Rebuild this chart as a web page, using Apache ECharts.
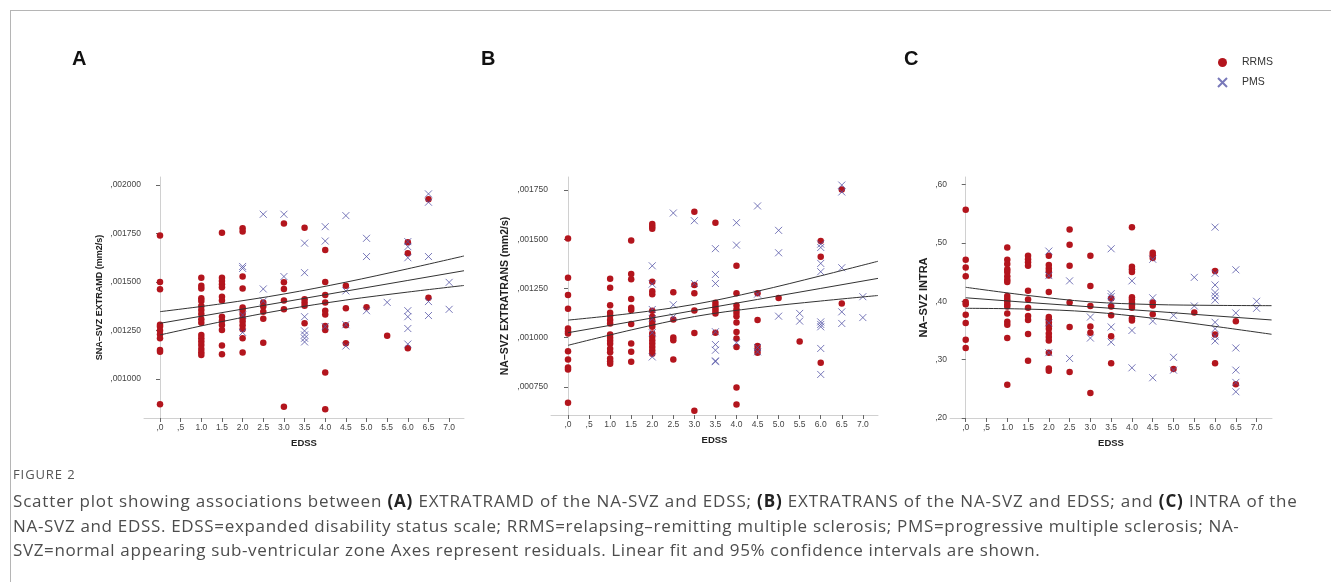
<!DOCTYPE html>
<html>
<head>
<meta charset="utf-8">
<script src="https://cdn.jsdelivr.net/npm/echarts@6/dist/echarts.min.js"></script>
<style>
  html, body { margin: 0; padding: 0; background: #fff; }
  #chart { position: absolute; left: 0; top: 0; width: 1331px; height: 582px; }
  #frame { position: absolute; left: 10px; top: 10px; width: 1321px; height: 572px;
    border-top: 1px solid #b5b5b5; border-left: 1px solid #b5b5b5; }
  #caption { position: absolute; left: 13px; top: 465px; width: 1316px;
    font-family: "Open Sans", sans-serif; color: #4d4d4d; white-space: nowrap; }
  #caption .fig { font-size: 13px; letter-spacing: 0.9px; color: #555; margin-bottom: 6px; }
  #caption .txt { font-size: 17px; line-height: 24.5px; }
  #caption .l1 { letter-spacing: 0.82px; }
  #caption .l2 { letter-spacing: 0.68px; }
  #caption .l3 { letter-spacing: 0.63px; }
  #caption b { color: #222; }
</style>
</head>
<body>
<div id="chart"></div>
<div id="frame"></div>
<div id="caption">
  <div class="fig">FIGURE 2</div>
  <div class="txt"><span class="l1">Scatter plot showing associations between <b>(A)</b> EXTRATRAMD of the NA-SVZ and EDSS; <b>(B)</b> EXTRATRANS of the NA-SVZ and EDSS; and <b>(C)</b> INTRA of the</span><br><span class="l2">NA-SVZ and EDSS. EDSS=expanded disability status scale; RRMS=relapsing–remitting multiple sclerosis; PMS=progressive multiple sclerosis; NA-</span><br><span class="l3">SVZ=normal appearing sub-ventricular zone Axes represent residuals. Linear fit and 95% confidence intervals are shown.</span></div>
</div>
<script>
// EDSS tick labels
var edssTicks = [0, 0.5, 1, 1.5, 2, 2.5, 3, 3.5, 4, 4.5, 5, 5.5, 6, 6.5, 7];

// A: SNA-SVZ EXTRAMD, grouped by EDSS value
var aRrms = [
  [0, [0.001739, 0.0015, 0.001462, 0.00128, 0.00127, 0.00125, 0.00123, 0.00121, 0.00115, 0.00114, 0.00087]],
  [1, [0.001522, 0.00148, 0.001467, 0.001416, 0.001402, 0.001376, 0.001356, 0.001335, 0.001308, 0.00129, 0.001227, 0.00121, 0.001193, 0.001175, 0.001155, 0.001138, 0.001124]],
  [1.5, [0.001754, 0.001522, 0.001505, 0.001488, 0.001473, 0.001424, 0.001404, 0.001321, 0.0013, 0.001278, 0.001253, 0.001172, 0.001127]],
  [2, [0.001777, 0.00176, 0.001528, 0.001467, 0.001368, 0.001356, 0.001335, 0.001313, 0.001296, 0.001277, 0.001256, 0.00121, 0.001136]],
  [2.5, [0.001394, 0.001373, 0.001347, 0.00131, 0.001187]],
  [3, [0.001802, 0.001498, 0.001464, 0.001404, 0.001359, 0.000857]],
  [3.5, [0.00178, 0.001411, 0.001394, 0.001378, 0.001287]],
  [4, [0.001665, 0.0015, 0.001433, 0.001394, 0.001352, 0.001333, 0.001273, 0.001253, 0.001034, 0.000844]],
  [4.5, [0.00148, 0.001364, 0.001277, 0.001184]],
  [5, [0.00137]],
  [5.5, [0.001223]],
  [6, [0.001705, 0.001648, 0.001158]],
  [6.5, [0.001926, 0.001419]]
];
var aPms = [
  [2, [0.00158, 0.00157, 0.00133, 0.00124]],
  [2.5, [0.001849, 0.001464, 0.001402]],
  [3, [0.001849, 0.001528]],
  [3.5, [0.0017, 0.001548, 0.001321, 0.001248, 0.001227, 0.00121, 0.001191]],
  [4, [0.001785, 0.001711, 0.00127]],
  [4.5, [0.001842, 0.001454, 0.00128, 0.00117]],
  [5, [0.001725, 0.001631, 0.001352]],
  [5.5, [0.001395]],
  [6, [0.001708, 0.001682, 0.001625, 0.001352, 0.001321, 0.00126, 0.00118]],
  [6.5, [0.001954, 0.001911, 0.001631, 0.001399, 0.001327]],
  [7, [0.001498, 0.001359]]
];

// B: NA-SVZ EXTRATRANS
var bRrms = [
  [0, [0.001504, 0.001304, 0.001216, 0.001147, 0.001047, 0.001033, 0.001021, 0.000931, 0.000889, 0.000848, 0.000838, 0.000669]],
  [1, [0.001299, 0.001253, 0.001164, 0.001126, 0.001111, 0.001089, 0.001072, 0.001016, 0.000999, 0.000984, 0.000969, 0.000943, 0.000926, 0.000894, 0.00088, 0.000867]],
  [1.5, [0.001494, 0.001323, 0.001296, 0.001196, 0.001152, 0.00114, 0.001069, 0.00097, 0.000928, 0.000877]],
  [2, [0.001577, 0.001564, 0.001553, 0.001284, 0.001236, 0.001221, 0.001136, 0.001106, 0.001086, 0.001069, 0.001055, 0.001021, 0.001004, 0.000987, 0.00097, 0.000953, 0.000935, 0.000918]],
  [2.5, [0.001231, 0.001092, 0.001001, 0.000987, 0.000889]],
  [3, [0.00164, 0.001267, 0.001225, 0.001138, 0.001023, 0.000628]],
  [3.5, [0.001584, 0.001177, 0.001162, 0.001148, 0.001135, 0.001123, 0.001025]],
  [4, [0.001365, 0.001225, 0.001163, 0.001143, 0.001126, 0.001109, 0.001077, 0.001028, 0.000996, 0.000952, 0.000747, 0.00066]],
  [4.5, [0.001225, 0.00109, 0.000957, 0.00094, 0.000923]],
  [5, [0.001201]],
  [5.5, [0.00098]],
  [6, [0.001491, 0.001411, 0.000872]],
  [6.5, [0.001753, 0.001174]]
];
var bPms = [
  [2, [0.001365, 0.001272, 0.001143, 0.001097, 0.001025, 0.000902]],
  [2.5, [0.001633, 0.001167, 0.001106]],
  [3, [0.001594, 0.001275]],
  [3.5, [0.001452, 0.001321, 0.001275, 0.00103, 0.000965, 0.000936, 0.000882, 0.000878]],
  [4, [0.001584, 0.00147, 0.000974]],
  [4.5, [0.001669, 0.001221, 0.00095, 0.000928]],
  [5, [0.001545, 0.001431, 0.001109]],
  [5.5, [0.001123, 0.001084]],
  [6, [0.001475, 0.001458, 0.001377, 0.001335, 0.00108, 0.001067, 0.001055, 0.000945, 0.000813]],
  [6.5, [0.001775, 0.00174, 0.001355, 0.001131, 0.001072]],
  [7, [0.001208, 0.001102]]
];

// C: NA-SVZ INTRA
var cRrms = [
  [0, [0.557, 0.471, 0.458, 0.443, 0.399, 0.395, 0.377, 0.363, 0.334, 0.320]],
  [1, [0.492, 0.471, 0.464, 0.455, 0.450, 0.443, 0.437, 0.433, 0.409, 0.404, 0.400, 0.395, 0.391, 0.379, 0.365, 0.360, 0.337, 0.257]],
  [1.5, [0.478, 0.472, 0.467, 0.461, 0.418, 0.403, 0.389, 0.375, 0.368, 0.344, 0.298]],
  [2, [0.478, 0.462, 0.456, 0.451, 0.444, 0.416, 0.373, 0.369, 0.364, 0.359, 0.353, 0.345, 0.339, 0.333, 0.312, 0.285, 0.281]],
  [2.5, [0.523, 0.497, 0.461, 0.398, 0.356, 0.279]],
  [3, [0.478, 0.426, 0.392, 0.357, 0.346, 0.243]],
  [3.5, [0.405, 0.391, 0.376, 0.340, 0.294]],
  [4, [0.527, 0.459, 0.455, 0.450, 0.407, 0.403, 0.398, 0.393, 0.389, 0.371, 0.367]],
  [4.5, [0.483, 0.479, 0.474, 0.398, 0.393, 0.378]],
  [5, [0.284]],
  [5.5, [0.381]],
  [6, [0.452, 0.343, 0.294]],
  [6.5, [0.366, 0.258]]
];
var cPms = [
  [2, [0.486, 0.444, 0.363, 0.312]],
  [2.5, [0.435, 0.302]],
  [3, [0.373, 0.337]],
  [3.5, [0.490, 0.413, 0.408, 0.399, 0.356, 0.330]],
  [4, [0.435, 0.350, 0.286]],
  [4.5, [0.472, 0.406, 0.366, 0.269]],
  [5, [0.376, 0.304, 0.282]],
  [5.5, [0.441, 0.392]],
  [6, [0.527, 0.448, 0.428, 0.415, 0.409, 0.402, 0.364, 0.353, 0.340, 0.332]],
  [6.5, [0.454, 0.380, 0.320, 0.282, 0.261, 0.245]],
  [7, [0.400, 0.388]]
];

// linear fit and 95% CI, read at these EDSS values
var fitX = [0, 1.5, 3, 4.5, 6, 7.36];
var aFit = [0.001287, 0.001342, 0.001397, 0.001453, 0.001508, 0.001558];
var aUpper = [0.001347, 0.001388, 0.001438, 0.001499, 0.001568, 0.001634];
var aLower = [0.001227, 0.001296, 0.001357, 0.001407, 0.001448, 0.001482];
var bFit = [0.001025, 0.001081, 0.001138, 0.001194, 0.00125, 0.001301];
var bUpper = [0.001089, 0.001123, 0.001169, 0.001236, 0.001314, 0.001388];
var bLower = [0.000961, 0.001039, 0.001107, 0.001152, 0.001186, 0.001214];
var cFit = [0.406, 0.398, 0.3905, 0.383, 0.375, 0.368];
var cUpper = [0.424, 0.410, 0.399, 0.3945, 0.393, 0.3925];
var cLower = [0.388, 0.3866, 0.3818, 0.371, 0.357, 0.3435];

// y axis tick labels
var aTicks = [0.001, 0.00125, 0.0015, 0.00175, 0.002];
var bTicks = [0.00075, 0.001, 0.00125, 0.0015, 0.00175];
var cTicks = [0.2, 0.3, 0.4, 0.5, 0.6];

function flat(groups) {
  var out = [];
  groups.forEach(function (g) {
    g[1].forEach(function (y) { out.push([g[0], y]); });
  });
  return out;
}
function pairs(xs, ys) {
  return xs.map(function (x, i) { return [x, ys[i]]; });
}
function comma(v, d) {
  return v.toFixed(d).replace(/^0\./, ',');
}

var RED = '#b3151d';
var BLUE = '#5656a8';
var XMARK = 'path://M0,0L10,10M10,0L0,10';
var tickFont = { fontFamily: 'Liberation Sans', fontSize: 8.5, color: '#444' };
var nameFont = { fontFamily: 'Liberation Sans', fontWeight: 'bold', color: '#222' };

var panels = [
  { grid: { left: 144, top: 177, width: 320, height: 241 }, xmin: -0.3875, xmax: 7.36, ymin: 0.000799, ymax: 0.002041,
    ticks: aTicks, dec: 6, name: 'SNA–SVZ EXTRAMD (mm2/s)', nameSize: 9, nameGap: 40,
    rrms: aRrms, pms: aPms, fit: aFit, up: aUpper, lo: aLower },
  { grid: { left: 551, top: 177, width: 327, height: 238 }, xmin: -0.404, xmax: 7.36, ymin: 0.000607, ymax: 0.001816,
    ticks: bTicks, dec: 6, name: 'NA–SVZ EXTRATRANS (mm2/s)', nameSize: 10.5, nameGap: 40,
    rrms: bRrms, pms: bPms, fit: bFit, up: bUpper, lo: bLower },
  { grid: { left: 950, top: 177, width: 322, height: 241 }, xmin: -0.378, xmax: 7.37, ymin: 0.2, ymax: 0.613,
    ticks: cTicks, dec: 2, name: 'NA–SVZ INTRA', nameSize: 11, nameGap: 21,
    rrms: cRrms, pms: cPms, fit: cFit, up: cUpper, lo: cLower }
];

var grids = [], xAxes = [], yAxes = [], series = [];
panels.forEach(function (p, i) {
  grids.push(p.grid);
  xAxes.push({
    type: 'value', gridIndex: i, min: p.xmin, max: p.xmax,
    name: 'EDSS', nameLocation: 'middle', nameGap: 20,
    nameTextStyle: Object.assign({ fontSize: 9.5 }, nameFont),
    axisLine: { lineStyle: { color: '#d0d0d0', width: 1 } },
    axisTick: { show: true, length: 4, customValues: edssTicks, lineStyle: { color: '#666' } },
    axisLabel: Object.assign({ customValues: edssTicks, margin: 5, formatter: function (v) { return comma(v, 1); } }, tickFont),
    splitLine: { show: false }
  });
  yAxes.push({
    type: 'value', gridIndex: i, min: p.ymin, max: p.ymax,
    name: p.name, nameLocation: 'middle', nameGap: p.nameGap,
    nameTextStyle: Object.assign({ fontSize: p.nameSize }, nameFont),
    axisLine: { show: true, lineStyle: { color: '#d0d0d0', width: 1 } },
    axisTick: { show: true, length: 4, customValues: p.ticks, lineStyle: { color: '#666' } },
    axisLabel: Object.assign({ customValues: p.ticks, margin: 3, formatter: function (v) { return comma(v, p.dec); } }, tickFont),
    splitLine: { show: false }
  });
  series.push({
    name: 'RRMS', type: 'scatter', xAxisIndex: i, yAxisIndex: i,
    symbol: 'circle', symbolSize: 6.5, itemStyle: { color: RED, opacity: 1 },
    data: flat(p.rrms), z: 2
  });
  series.push({
    name: 'PMS', type: 'scatter', xAxisIndex: i, yAxisIndex: i,
    symbol: XMARK, symbolSize: 7,
    itemStyle: { color: 'transparent', borderColor: BLUE, borderWidth: 1 },
    data: flat(p.pms), z: 3
  });
  [p.up, p.fit, p.lo].forEach(function (ys, k) {
    series.push({
      name: 'fit' + i + k, type: 'line', xAxisIndex: i, yAxisIndex: i,
      data: pairs(fitX, ys), smooth: k === 1 ? false : 0.35, showSymbol: false, silent: true,
      lineStyle: { color: '#333', width: 1 }, z: 4
    });
  });
});

var chart = echarts.init(document.getElementById('chart'));
chart.setOption({
  animation: false,
  backgroundColor: '#fff',
  title: [
    { text: 'A', left: 67, top: 44 },
    { text: 'B', left: 476, top: 44 },
    { text: 'C', left: 899, top: 44 }
  ].map(function (t) {
    t.textStyle = { fontFamily: 'Liberation Sans', fontWeight: 'bold', fontSize: 20, color: '#111' };
    return t;
  }),
  legend: {
    data: ['RRMS', 'PMS'], orient: 'vertical', left: 1212, top: 52,
    itemWidth: 29, itemHeight: 9, itemGap: 9,
    textStyle: { fontFamily: 'Liberation Sans', fontSize: 10.5, color: '#333' }
  },
  grid: grids,
  xAxis: xAxes,
  yAxis: yAxes,
  series: series
});
</script>
</body>
</html>
